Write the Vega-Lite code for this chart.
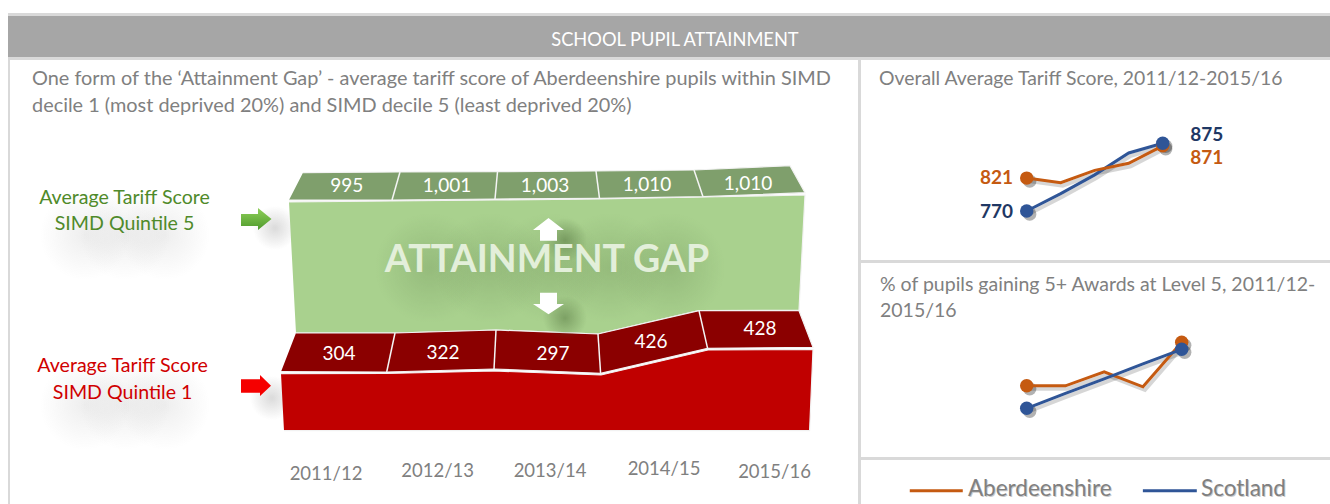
{
"$schema":"https://vega.github.io/schema/vega-lite/v6.json",
"padding":{"left":8,"top":13,"right":0,"bottom":0},
"background":"white",
"config":{"view":{"stroke":null},"text":{"font":"Lato","dy":1},"concat":{"spacing":0}},
"datasets":{
"strip":[{"a":0,"b":1}],
"polys":[
{"shape":"greenFront","i":1,"x":0.49,"y":988},{"shape":"greenFront","i":2,"x":1.52,"y":992},{"shape":"greenFront","i":3,"x":2.55,"y":996},{"shape":"greenFront","i":4,"x":3.6,"y":1000},{"shape":"greenFront","i":5,"x":4.63,"y":1008},{"shape":"greenFront","i":6,"x":5.65,"y":1016},{"shape":"greenFront","i":7,"x":5.59,"y":556},{"shape":"greenFront","i":8,"x":4.59,"y":553.2},{"shape":"greenFront","i":9,"x":3.58,"y":460},{"shape":"greenFront","i":10,"x":2.56,"y":476},{"shape":"greenFront","i":11,"x":1.56,"y":464},{"shape":"greenFront","i":12,"x":0.56,"y":464},
{"shape":"greenBand","i":1,"x":0.63,"y":1105.2},{"shape":"greenBand","i":2,"x":1.6,"y":1108},{"shape":"greenBand","i":3,"x":2.575,"y":1109.2},{"shape":"greenBand","i":4,"x":3.56,"y":1112},{"shape":"greenBand","i":5,"x":4.54,"y":1116},{"shape":"greenBand","i":6,"x":5.5,"y":1133.2},{"shape":"greenBand","i":7,"x":5.65,"y":1025.2},{"shape":"greenBand","i":8,"x":4.63,"y":1009.2},{"shape":"greenBand","i":9,"x":3.595,"y":1002.8},{"shape":"greenBand","i":10,"x":2.55,"y":1000},{"shape":"greenBand","i":11,"x":1.52,"y":996},{"shape":"greenBand","i":12,"x":0.49,"y":996},
{"shape":"redBand","i":1,"x":0.56,"y":464},{"shape":"redBand","i":2,"x":1.55,"y":464},{"shape":"redBand","i":3,"x":2.56,"y":476},{"shape":"redBand","i":4,"x":3.58,"y":460},{"shape":"redBand","i":5,"x":4.59,"y":553.2},{"shape":"redBand","i":6,"x":5.59,"y":553.2},{"shape":"redBand","i":7,"x":5.73,"y":406.8},{"shape":"redBand","i":8,"x":4.676,"y":402.8},{"shape":"redBand","i":9,"x":3.606,"y":302.8},{"shape":"redBand","i":10,"x":2.54,"y":320},{"shape":"redBand","i":11,"x":1.467,"y":308},{"shape":"redBand","i":12,"x":0.41,"y":309.2},
{"shape":"redFront","i":1,"x":0.41,"y":301.2},{"shape":"redFront","i":2,"x":1.47,"y":302},{"shape":"redFront","i":3,"x":2.54,"y":312},{"shape":"redFront","i":4,"x":3.61,"y":296},{"shape":"redFront","i":5,"x":4.68,"y":396},{"shape":"redFront","i":6,"x":5.73,"y":398},{"shape":"redFront","i":7,"x":5.696,"y":73.2},{"shape":"redFront","i":8,"x":0.44,"y":73.2}
],
"seps":[
{"x":1.6,"y":1108,"x2":1.52,"y2":996},{"x":2.575,"y":1109.2,"x2":2.55,"y2":1000},{"x":3.56,"y":1112,"x2":3.595,"y2":1002.8},{"x":4.54,"y":1116,"x2":4.63,"y2":1009.2},
{"x":1.55,"y":464,"x2":1.467,"y2":308},{"x":2.56,"y":476,"x2":2.54,"y2":320},{"x":3.58,"y":460,"x2":3.606,"y2":302.8},{"x":4.59,"y":553.2,"x2":4.676,"y2":402.8}
],
"arrows":[
{"shape":"green","i":1,"x":0.01,"y":940},{"shape":"green","i":2,"x":0.18,"y":940},{"shape":"green","i":3,"x":0.18,"y":964},{"shape":"green","i":4,"x":0.315,"y":920},{"shape":"green","i":5,"x":0.18,"y":876},{"shape":"green","i":6,"x":0.18,"y":892},{"shape":"green","i":7,"x":0.01,"y":892},
{"shape":"red","i":1,"x":0.01,"y":278.8},{"shape":"red","i":2,"x":0.2,"y":278.8},{"shape":"red","i":3,"x":0.2,"y":296},{"shape":"red","i":4,"x":0.31,"y":252.8},{"shape":"red","i":5,"x":0.2,"y":212},{"shape":"red","i":6,"x":0.2,"y":225.2},{"shape":"red","i":7,"x":0.01,"y":225.2},
{"shape":"up","i":1,"x":3.085,"y":924},{"shape":"up","i":2,"x":3.24,"y":876},{"shape":"up","i":3,"x":3.17,"y":876},{"shape":"up","i":4,"x":3.17,"y":833.2},{"shape":"up","i":5,"x":3.0,"y":833.2},{"shape":"up","i":6,"x":3.0,"y":876},{"shape":"up","i":7,"x":2.93,"y":876},
{"shape":"down","i":1,"x":3.085,"y":538.8},{"shape":"down","i":2,"x":3.24,"y":580},{"shape":"down","i":3,"x":3.17,"y":580},{"shape":"down","i":4,"x":3.17,"y":625.2},{"shape":"down","i":5,"x":3.0,"y":625.2},{"shape":"down","i":6,"x":3.0,"y":580},{"shape":"down","i":7,"x":2.93,"y":580}
],
"softLabels":[
{"x":-2.0,"x2":-1.1,"y":1036,"y2":676},{"x":-1.6,"x2":-0.7,"y":1036,"y2":676},{"x":-1.2,"x2":-0.3,"y":1036,"y2":676},
{"x":-2.0,"x2":-1.1,"y":356,"y2":-4},{"x":-1.6,"x2":-0.7,"y":356,"y2":-4},{"x":-1.2,"x2":-0.3,"y":356,"y2":-4}
],
"softBack":[
{"x":0.13,"x2":0.57,"y":972,"y2":796},{"x":0.1,"x2":0.54,"y":292,"y2":116}
],
"softGap":[
{"x":1.35,"x2":2.45,"y":944,"y2":504},{"x":1.95,"x2":3.05,"y":944,"y2":504},{"x":2.55,"x2":3.65,"y":944,"y2":504},{"x":3.15,"x2":4.25,"y":944,"y2":504},{"x":3.75,"x2":4.85,"y":944,"y2":504}
],
"softArrow":[
{"x":3.03,"x2":3.47,"y":924,"y2":748},{"x":3.03,"x2":3.47,"y":612,"y2":436}
],
"bandLabels":[
{"x":1.067,"y":1056,"label":"995"},{"x":2.07,"y":1056,"label":"1,001"},{"x":3.05,"y":1056,"label":"1,003"},{"x":4.07,"y":1060,"label":"1,010"},{"x":5.08,"y":1065,"label":"1,010"},
{"x":0.99,"y":384,"label":"304"},{"x":2.03,"y":388,"label":"322"},{"x":3.13,"y":384,"label":"297"},{"x":4.11,"y":432,"label":"426"},{"x":5.2,"y":484,"label":"428"}
],
"yearLabels":[
{"x":0.86,"y":-96,"label":"2011/12"},{"x":1.977,"y":-84,"label":"2012/13"},{"x":3.1,"y":-84,"label":"2013/14"},{"x":4.24,"y":-76,"label":"2014/15"},{"x":5.345,"y":-88,"label":"2015/16"}
],
"overall":[
{"t":1,"v":770,"region":"Scotland"},{"t":2,"v":797,"region":"Scotland"},{"t":3,"v":826,"region":"Scotland"},{"t":4,"v":860,"region":"Scotland"},{"t":5,"v":875,"region":"Scotland"},
{"t":1,"v":821,"region":"Aberdeenshire"},{"t":2,"v":814,"region":"Aberdeenshire"},{"t":3,"v":833,"region":"Aberdeenshire"},{"t":4,"v":844,"region":"Aberdeenshire"},{"t":5,"v":871,"region":"Aberdeenshire"}
],
"awards":[
{"t":1,"v":54.5,"region":"Aberdeenshire"},{"t":2,"v":54.5,"region":"Aberdeenshire"},{"t":3,"v":57.3,"region":"Aberdeenshire"},{"t":4,"v":54.3,"region":"Aberdeenshire"},{"t":5,"v":63.2,"region":"Aberdeenshire"},
{"t":1,"v":50,"region":"Scotland"},{"t":2,"v":53,"region":"Scotland"},{"t":3,"v":55.9,"region":"Scotland"},{"t":4,"v":58.9,"region":"Scotland"},{"t":5,"v":61.8,"region":"Scotland"}
]
},
"vconcat":[
{"width":1322,"height":3,"data":{"name":"strip"},"mark":{"type":"rect","color":"#d9d9d9"},"encoding":{"x":{"field":"a","type":"quantitative","scale":{"domain":[0,1]},"axis":null},"x2":{"field":"b"},"y":{"field":"a","type":"quantitative","scale":{"domain":[0,1]},"axis":null},"y2":{"field":"b"}}},
{"width":1322,"height":41,
 "view":{"fill":"#a6a6a6"},
 "data":{"values":[{"x":0.5045,"y":0.42,"label":"SCHOOL PUPIL ATTAINMENT"}]},
 "mark":{"type":"text","color":"white","fontSize":18.3,"baseline":"middle"},
 "encoding":{
  "x":{"field":"x","type":"quantitative","scale":{"domain":[0,1]},"axis":null},
  "y":{"field":"y","type":"quantitative","scale":{"domain":[0,1]},"axis":null},
  "text":{"field":"label"}}
},
{"width":1322,"height":3,"data":{"name":"strip"},"mark":{"type":"rect","color":"#d9d9d9"},"encoding":{"x":{"field":"a","type":"quantitative","scale":{"domain":[0,1]},"axis":null},"x2":{"field":"b"},"y":{"field":"a","type":"quantitative","scale":{"domain":[0,1]},"axis":null},"y2":{"field":"b"}}},
{"hconcat":[
 {"width":2,"height":444,"data":{"name":"strip"},"mark":{"type":"rect","color":"#d9d9d9"},"encoding":{"x":{"field":"a","type":"quantitative","scale":{"domain":[0,1]},"axis":null},"x2":{"field":"b"},"y":{"field":"a","type":"quantitative","scale":{"domain":[0,1]},"axis":null},"y2":{"field":"b"}}},
 {"width":848,"height":444,
  "encoding":{
   "x":{"field":"x","type":"quantitative","scale":{"domain":[-2.3,6.18],"nice":false,"zero":false},"axis":null},
   "y":{"field":"y","type":"quantitative","scale":{"domain":[-220,1556],"nice":false,"zero":false},"axis":null}
  },
  "layer":[
   {"data":{"name":"softLabels"},"mark":{"type":"rect","fill":{"gradient":"radial","stops":[{"offset":0,"color":"rgba(90,90,90,0.1)"},{"offset":1,"color":"rgba(90,90,90,0)"}]}},"encoding":{"x2":{"field":"x2"},"y2":{"field":"y2"}}},
   {"data":{"name":"softBack"},"mark":{"type":"rect","fill":{"gradient":"radial","stops":[{"offset":0,"color":"rgba(90,90,90,0.22)"},{"offset":1,"color":"rgba(90,90,90,0)"}]}},"encoding":{"x2":{"field":"x2"},"y2":{"field":"y2"}}},
   {"data":{"name":"polys"},"mark":{"type":"line","stroke":"#f2f2f2","strokeWidth":1.2},
    "encoding":{"fill":{"field":"shape","type":"nominal","scale":{"domain":["greenFront","greenBand","redBand","redFront"],"range":["#a9d18e","#7f9f6c","#8b0000","#c00000"]},"legend":null},"order":{"field":"i","type":"quantitative"}}},
   {"data":{"name":"seps"},"mark":{"type":"rule","stroke":"#f5f5f5","strokeWidth":1.5},"encoding":{"x2":{"field":"x2"},"y2":{"field":"y2"}}},
   {"data":{"name":"softGap"},"mark":{"type":"rect","fill":{"gradient":"radial","stops":[{"offset":0,"color":"rgba(70,100,50,0.2)"},{"offset":1,"color":"rgba(70,100,50,0)"}]}},"encoding":{"x2":{"field":"x2"},"y2":{"field":"y2"}}},
   {"data":{"name":"softArrow"},"mark":{"type":"rect","fill":{"gradient":"radial","stops":[{"offset":0,"color":"rgba(60,90,40,0.4)"},{"offset":1,"color":"rgba(60,90,40,0)"}]}},"encoding":{"x2":{"field":"x2"},"y2":{"field":"y2"}}},
   {"data":{"name":"arrows"},"transform":[{"filter":"datum.shape==='up'||datum.shape==='down'"}],"mark":{"type":"line","fill":"white","stroke":null},"encoding":{"detail":{"field":"shape"},"order":{"field":"i","type":"quantitative"}}},
   {"data":{"name":"arrows"},"transform":[{"filter":"datum.shape==='green'"}],"mark":{"type":"line","stroke":null,"fill":{"gradient":"linear","x1":0,"y1":0,"x2":0,"y2":1,"stops":[{"offset":0,"color":"#8fd05a"},{"offset":1,"color":"#4f9a2c"}]}},"encoding":{"order":{"field":"i","type":"quantitative"}}},
   {"data":{"name":"arrows"},"transform":[{"filter":"datum.shape==='red'"}],"mark":{"type":"line","fill":"#f50000","stroke":null},"encoding":{"order":{"field":"i","type":"quantitative"}}},
   {"data":{"values":[{"x":3.07,"y":756,"label":"ATTAINMENT GAP"}]},"mark":{"type":"text","fontSize":37.5,"fontWeight":"bold","color":"#e3efda","baseline":"middle"},"encoding":{"text":{"field":"label"}}},
   {"data":{"name":"bandLabels"},"mark":{"type":"text","fontSize":19,"color":"white","baseline":"middle"},"encoding":{"text":{"field":"label"}}},
   {"data":{"name":"yearLabels"},"mark":{"type":"text","fontSize":18.5,"color":"#808080","baseline":"middle"},"encoding":{"text":{"field":"label"}}},
   {"data":{"values":[{"x":-1.155,"y":1008,"label":"Average Tariff Score"},{"x":-1.155,"y":904,"label":"SIMD Quintile 5"}]},"mark":{"type":"text","fontSize":19.6,"baseline":"middle","color":"#4f8a2a"},"encoding":{"text":{"field":"label"}}},
   {"data":{"values":[{"x":-1.174,"y":336,"label":"Average Tariff Score"},{"x":-1.174,"y":229,"label":"SIMD Quintile 1"}]},"mark":{"type":"text","fontSize":19.6,"baseline":"middle","color":"#d00000"},"encoding":{"text":{"field":"label"}}},
   {"data":{"values":[{"x":-2.08,"y":1484,"label":"One form of the ‘Attainment Gap’ - average tariff score of Aberdeenshire pupils within SIMD"},{"x":-2.08,"y":1376,"label":"decile 1 (most deprived 20%) and SIMD decile 5 (least deprived 20%)"}]},"mark":{"type":"text","fontSize":19.9,"color":"#808080","align":"left","baseline":"middle"},"encoding":{"text":{"field":"label"}}}
  ]
 },
 {"width":3,"height":444,"data":{"name":"strip"},"mark":{"type":"rect","color":"#d9d9d9"},"encoding":{"x":{"field":"a","type":"quantitative","scale":{"domain":[0,1]},"axis":null},"x2":{"field":"b"},"y":{"field":"a","type":"quantitative","scale":{"domain":[0,1]},"axis":null},"y2":{"field":"b"}}},
 {"vconcat":[
  {"width":469,"height":200,
   "encoding":{
    "x":{"field":"t","type":"quantitative","scale":{"domain":[-3.874,9.92],"nice":false,"zero":false},"axis":null},
    "y":{"field":"v","type":"quantitative","scale":{"domain":[694.05,1004.05],"nice":false,"zero":false},"axis":null}
   },
   "layer":[
    {"data":{"name":"overall"},"mark":{"type":"line","stroke":"#000","strokeOpacity":0.16,"strokeWidth":4,"xOffset":2,"yOffset":3},"encoding":{"detail":{"field":"region"}}},
    {"data":{"name":"overall"},"transform":[{"filter":"datum.t===1||datum.t===5"}],"mark":{"type":"circle","size":180,"fill":"#000","opacity":0.3,"xOffset":3,"yOffset":3}},
    {"data":{"name":"overall"},"mark":{"type":"line","strokeWidth":3},"encoding":{"color":{"field":"region","type":"nominal","scale":{"domain":["Aberdeenshire","Scotland"],"range":["#c55a11","#2f5597"]},"legend":null}}},
    {"data":{"name":"overall"},"transform":[{"filter":"datum.t===1||datum.t===5"}],"mark":{"type":"circle","size":180,"opacity":1},"encoding":{"color":{"field":"region","type":"nominal","scale":{"domain":["Aberdeenshire","Scotland"],"range":["#c55a11","#2f5597"]},"legend":null},"order":{"field":"region"}}},
    {"data":{"values":[{"t":0.597,"v":822,"label":"821"}]},"mark":{"type":"text","fontSize":19,"fontWeight":"bold","align":"right","baseline":"middle","color":"#c55a11"},"encoding":{"text":{"field":"label"}}},
    {"data":{"values":[{"t":0.597,"v":770,"label":"770"}]},"mark":{"type":"text","fontSize":19,"fontWeight":"bold","align":"right","baseline":"middle","color":"#1f3864"},"encoding":{"text":{"field":"label"}}},
    {"data":{"values":[{"t":5.81,"v":889,"label":"875"}]},"mark":{"type":"text","fontSize":19,"fontWeight":"bold","align":"left","baseline":"middle","color":"#1f3864"},"encoding":{"text":{"field":"label"}}},
    {"data":{"values":[{"t":5.81,"v":854,"label":"871"}]},"mark":{"type":"text","fontSize":19,"fontWeight":"bold","align":"left","baseline":"middle","color":"#c55a11"},"encoding":{"text":{"field":"label"}}},
    {"data":{"values":[{"t":-3.344,"v":976,"label":"Overall Average Tariff Score, 2011/12-2015/16"}]},"mark":{"type":"text","fontSize":19.4,"color":"#808080","align":"left","baseline":"middle"},"encoding":{"text":{"field":"label"}}}
   ]
  },
  {"width":469,"height":3,"data":{"name":"strip"},"mark":{"type":"rect","color":"#d9d9d9"},"encoding":{"x":{"field":"a","type":"quantitative","scale":{"domain":[0,1]},"axis":null},"x2":{"field":"b"},"y":{"field":"a","type":"quantitative","scale":{"domain":[0,1]},"axis":null},"y2":{"field":"b"}}},
  {"width":469,"height":194,
   "encoding":{
    "x":{"field":"t","type":"quantitative","scale":{"domain":[-3.276,8.827],"nice":false,"zero":false},"axis":null},
    "y":{"field":"v","type":"quantitative","scale":{"domain":[40.26,79.06],"nice":false,"zero":false},"axis":null}
   },
   "layer":[
    {"data":{"name":"awards"},"mark":{"type":"line","stroke":"#000","strokeOpacity":0.16,"strokeWidth":4,"xOffset":2,"yOffset":3},"encoding":{"detail":{"field":"region"}}},
    {"data":{"name":"awards"},"transform":[{"filter":"datum.t===1||datum.t===5"}],"mark":{"type":"circle","size":180,"fill":"#000","opacity":0.3,"xOffset":3,"yOffset":3}},
    {"data":{"name":"awards"},"mark":{"type":"line","strokeWidth":3},"encoding":{"color":{"field":"region","type":"nominal","scale":{"domain":["Aberdeenshire","Scotland"],"range":["#c55a11","#2f5597"]},"legend":null}}},
    {"data":{"name":"awards"},"transform":[{"filter":"datum.t===1||datum.t===5"}],"mark":{"type":"circle","size":180,"opacity":1},"encoding":{"color":{"field":"region","type":"nominal","scale":{"domain":["Aberdeenshire","Scotland"],"range":["#c55a11","#2f5597"]},"legend":null},"order":{"field":"region"}}},
    {"data":{"values":[{"t":-2.786,"v":74.9,"label":"% of pupils gaining 5+ Awards at Level 5, 2011/12-"},{"t":-2.786,"v":69.66,"label":"2015/16"}]},"mark":{"type":"text","fontSize":19.5,"color":"#808080","align":"left","baseline":"middle"},"encoding":{"text":{"field":"label"}}}
   ]
  },
  {"width":469,"height":3,"data":{"name":"strip"},"mark":{"type":"rect","color":"#d9d9d9"},"encoding":{"x":{"field":"a","type":"quantitative","scale":{"domain":[0,1]},"axis":null},"x2":{"field":"b"},"y":{"field":"a","type":"quantitative","scale":{"domain":[0,1]},"axis":null},"y2":{"field":"b"}}},
  {"width":469,"height":44,
   "encoding":{
    "x":{"field":"x","type":"quantitative","scale":{"domain":[0,1]},"axis":null},
    "y":{"field":"y","type":"quantitative","scale":{"domain":[0,1],"reverse":true},"axis":null}
   },
   "layer":[
    {"data":{"values":[{"x":0.104,"x2":0.217,"y":0.698,"region":"Aberdeenshire"},{"x":0.601,"x2":0.716,"y":0.698,"region":"Scotland"}]},"mark":{"type":"rule","strokeWidth":3},"encoding":{"x2":{"field":"x2"},"color":{"field":"region","type":"nominal","scale":{"domain":["Aberdeenshire","Scotland"],"range":["#c55a11","#2f5597"]},"legend":null}}},
    {"data":{"values":[{"x":0.228,"y":0.636,"label":"Aberdeenshire"},{"x":0.725,"y":0.636,"label":"Scotland"}]},"mark":{"type":"text","fontSize":22.5,"color":"#000","opacity":0.2,"align":"left","baseline":"middle","dx":1,"dy":2},"encoding":{"text":{"field":"label"}}},
    {"data":{"values":[{"x":0.228,"y":0.636,"label":"Aberdeenshire"},{"x":0.725,"y":0.636,"label":"Scotland"}]},"mark":{"type":"text","fontSize":22.5,"color":"#808080","align":"left","baseline":"middle"},"encoding":{"text":{"field":"label"}}}
   ]
  }
 ],"spacing":0}
],"spacing":0}
],"spacing":0
}
